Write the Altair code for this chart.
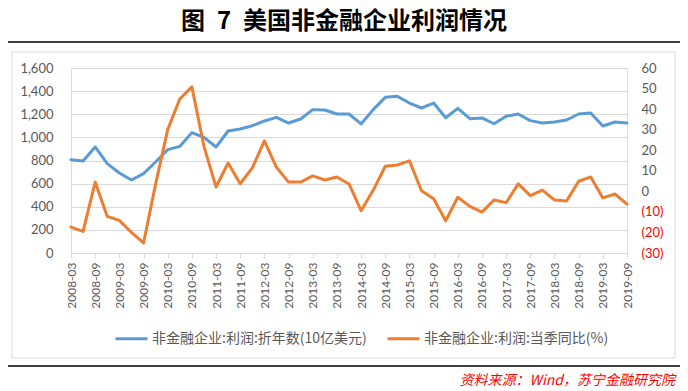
import altair as alt
import pandas as pd

quarters = [f"{y}-{m}" for y in range(2008, 2020) for m in ("03", "06", "09", "12")][:47]

profit = [807, 796, 917, 773,
          692, 631, 686, 787,
          894, 922, 1041, 1000,
          917, 1055, 1072, 1101,
          1142, 1173, 1124, 1159,
          1240, 1237, 1202, 1202,
          1116, 1240, 1346, 1355,
          1297, 1254, 1297, 1170,
          1251, 1162, 1168, 1118,
          1182, 1202, 1145, 1124,
          1133, 1150, 1202, 1211,
          1098, 1133, 1124]

yoy = [-17.4, -19.5, 4.5, -12.2,
       -14.1, -20.0, -25.1, 3.5,
       30.0, 44.9, 50.8, 21.9,
       2.1, 13.8, 3.7, 11.4,
       24.6, 11.7, 4.5, 4.5,
       7.5, 5.5, 7.0, 3.6,
       -9.4, 0.5, 12.2, 12.8,
       14.8, 0.3, -3.6, -14.3,
       -2.9, -7.3, -10.1, -4.2,
       -5.5, 3.6, -2.1, 0.6,
       -4.2, -4.7, 4.9, 7.0,
       -3.2, -1.3, -6.2]

series_names = ["非金融企业:利润:折年数(10亿美元)", "非金融企业:利润:当季同比(%)"]
series_colors = ["#5B9BD5", "#ED7D31"]
left_ticks = list(range(0, 1601, 200))
right_ticks = list(range(-30, 61, 10))
title_text = "图\u20027\u2002美国非金融企业利润情况"
source_text = "资料来源：Wind，苏宁金融研究院"

df1 = pd.DataFrame({"q": quarters, "v": profit, "s": series_names[0]})
df2 = pd.DataFrame({"q": quarters, "v": yoy, "s": series_names[1]})

W, H = 556, 185
GRAY = "#595959"
GRID = "#D9D9D9"
CJK = "Noto Sans CJK SC"
NUM = "Lato"

color = alt.Color(
    "s:N",
    scale=alt.Scale(domain=series_names, range=series_colors),
    legend=alt.Legend(
        title=None, orient="none", legendX=43, legendY=253, direction="horizontal",
        symbolType="stroke", symbolSize=1024, symbolStrokeWidth=3,
        labelFont=CJK, labelFontSize=14, labelColor=GRAY, labelOffset=3,
        columnPadding=14, labelLimit=400,
    ),
)

xenc = alt.X(
    "q:O", sort=quarters, title=None,
    scale=alt.Scale(type="point", padding=0),
    axis=alt.Axis(values=quarters[::2], labelAngle=270, labelFont=NUM, labelFontSize=12,
                  labelColor=GRAY, tickColor=GRID, domainColor=GRID, tickSize=5,
                  labelPadding=4, grid=False),
)

line1 = alt.Chart(df1).mark_line(strokeWidth=3, strokeCap="round", strokeJoin="round").encode(
    x=xenc,
    y=alt.Y("v:Q", title=None, scale=alt.Scale(domain=[0, 1600], nice=False),
            axis=alt.Axis(values=left_ticks, format=",d", orient="left", labelFont=NUM,
                          labelFontSize=13, labelColor=GRAY, ticks=False, tickSize=0,
                          domain=False, labelPadding=18, grid=True, gridColor=GRID)),
    color=color,
)

line2 = alt.Chart(df2).mark_line(strokeWidth=3, strokeCap="round", strokeJoin="round").encode(
    x=xenc,
    y=alt.Y("v:Q", title=None, scale=alt.Scale(domain=[-30, 60], nice=False),
            axis=alt.Axis(values=right_ticks, orient="right", labelFont=NUM,
                          labelFontSize=13, ticks=False, tickSize=0, domain=False,
                          labelPadding=14, grid=False,
                          labelExpr="datum.value < 0 ? '(' + format(-datum.value, 'd') + ')' : format(datum.value, 'd')",
                          labelColor=alt.ExprRef("datum.value < 0 ? '#FF0000' : '#595959'"))),
    color=color,
)

one = pd.DataFrame({"t": [""]})

frame = alt.Chart(one).mark_rect(fillOpacity=0, stroke=GRID, strokeWidth=1).encode(
    x=alt.value(-59), x2=alt.value(604), y=alt.value(-16), y2=alt.value(290))

rule_top = alt.Chart(one).mark_rule(color="black", strokeWidth=1.5).encode(
    x=alt.value(-68), x2=alt.value(612), y=alt.value(-26))
rule_bot = alt.Chart(one).mark_rule(color="black", strokeWidth=1.5).encode(
    x=alt.value(-68), x2=alt.value(612), y=alt.value(298))

title = alt.Chart(pd.DataFrame({"t": [title_text]})).mark_text(
    font=CJK, fontSize=24, fontWeight="bold", color="black", align="center", baseline="middle"
).encode(text="t:N", x=alt.value(273), y=alt.value(-46))

source = alt.Chart(pd.DataFrame({"t": [source_text]})).mark_text(
    font=CJK, fontSize=14, fontStyle="italic", color="#FF0000", align="right", baseline="middle"
).encode(text="t:N", x=alt.value(604), y=alt.value(313))

chart = alt.layer(frame, rule_top, rule_bot, title, source, line1, line2).resolve_scale(
    y="independent"
).properties(
    width=W, height=H,
    autosize=alt.AutoSizeParams(type="none"),
    padding={"left": 63, "top": 60, "right": 53, "bottom": 135},
).configure_view(stroke=None).configure(background="white")

chart.save("out.html", embed_options={"renderer": "svg", "actions": False})
